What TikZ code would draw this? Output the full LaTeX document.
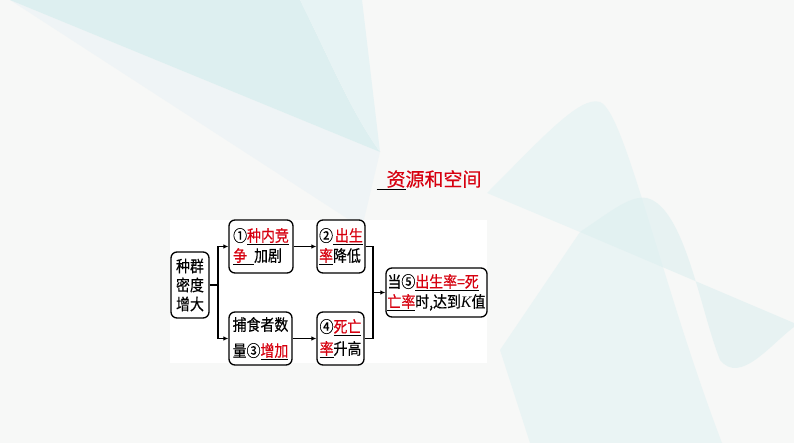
\documentclass[tikz,border=0pt]{standalone}
\usepackage{fontspec}
\setmainfont{Liberation Serif}
\newfontfamily\cjk[FakeStretch=0.87, FakeBold=0.4]{Noto Sans CJK SC}
\newfontfamily\cjkw[FakeBold=0.3]{Noto Sans CJK SC}
\usetikzlibrary{arrows.meta, positioning, calc}
\definecolor{bgc}{RGB}{247,248,247}
\definecolor{tealA}{RGB}{221,239,240}
\definecolor{tealB}{RGB}{231,243,244}
\definecolor{tealC}{RGB}{239,244,246}
\definecolor{ansred}{RGB}{215,0,15}
\newcommand{\ans}[1]{\underline{\textcolor{ansred}{#1}}}

\begin{document}
\begin{tikzpicture}[x=1pt, y=-1pt,
  box/.style={draw, line width=1.3pt, rounded corners=6pt, fill=white, align=left,
    inner sep=1.5pt, font=\cjk\fontsize{16}{20}\selectfont},
  arr/.style={line width=1.2pt, -{Latex[length=5pt,width=4.5pt]}},
  lnk/.style={line width=1.2pt}]
% background
\fill[bgc] (0,0) rectangle (794,443);
\useasboundingbox (0,0) rectangle (794,443);
\clip (0,0) rectangle (794,443);
\fill[tealC] (10,0) -- (380,152) -- (362,228) -- cycle;
\fill[tealA] (10,0) -- (300,0) .. controls (330,60) and (350,110) .. (380,152) -- cycle;
\fill[tealB] (300,0) -- (362,0) -- (380,152) .. controls (350,110) and (330,60) .. (300,0);
\fill[tealB, opacity=0.8] (487,193) .. controls (540,140) and (580,95) .. (600,102)
    .. controls (625,112) and (660,280) .. (722,443) -- (530,443) -- (500,350)
    -- (580,232) -- cycle;
\fill[tealA, opacity=0.6] (580,232) .. controls (610,212) and (630,195) .. (647,198)
    .. controls (685,208) and (700,310) .. (720,360)
    .. controls (740,385) and (770,345) .. (794,327) -- (794,323) -- cycle;

% white panel
\fill[white] (170,220) rectangle (487,363);

% title
\node[font=\cjkw\fontsize{19}{22}\selectfont] (title) at (429,180)
  {\underline{\hspace{10pt}\textcolor{ansred}{资}}\textcolor{ansred}{源和空间}};

% boxes
\node[box, align=center, minimum width=38pt, minimum height=66pt,
  font=\cjk\fontsize{16}{19}\selectfont] (dens) at (190,285) {种群\\密度\\增大};
\node[box, minimum width=64pt, minimum height=53pt] (comp) at (261,246.5)
  {①\ans{种内竞}\\\underline{\textcolor{ansred}{争}\hspace{7pt}}加剧};
\node[box, minimum width=48pt, minimum height=53pt] (birth) at (341,246.5)
  {②\underline{\hspace{2pt}\textcolor{ansred}{出生}}\\\ans{率}降低};
\node[box, minimum width=63pt, minimum height=53pt,
  font=\cjk\fontsize{16}{26}\selectfont] (pred) at (260.5,338.5)
  {捕食者数\\量③\ans{增加}};
\node[box, minimum width=47pt, minimum height=53pt,
  font=\cjk\fontsize{16}{22}\selectfont] (death) at (340.5,338.5)
  {④\ans{死亡}\\\ans{率}升高};
\node[box, minimum width=99pt, minimum height=49pt] (kval) at (436.5,292.5)
  {当⑤\ans{出生率=死}\\\ans{亡率}时,达到{\normalfont\itshape K}值};

% connectors
\coordinate (j1) at (218,285);
\coordinate (j2) at (373,292.5);
\draw[lnk] (dens.east) -- (j1);
\draw[arr] (j1) |- (comp.west);
\draw[arr] (j1) |- (pred.west);
\draw[arr] (comp) -- (birth);
\draw[arr] (pred) -- (death);
\draw[lnk] (birth.east) -| (j2) |- (death.east);
\draw[arr] (j2) -- (kval.west);
\end{tikzpicture}
\end{document}
